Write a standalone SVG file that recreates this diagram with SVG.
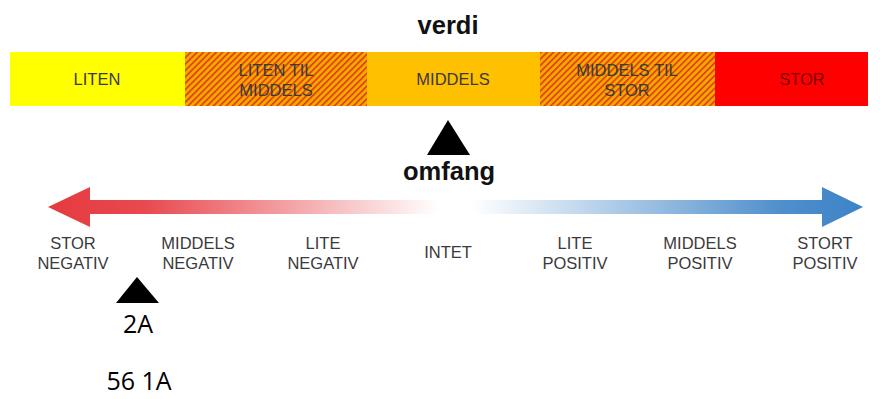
<svg xmlns="http://www.w3.org/2000/svg" width="880" height="399" viewBox="0 0 880 399">
<style>
.t{font-family:"Liberation Sans",Arial,sans-serif;font-size:16.5px;fill:#3a3a3a;text-anchor:middle}
.h{font-family:"Liberation Sans",Arial,sans-serif;font-size:25.5px;font-weight:bold;fill:#111;text-anchor:middle}
.c{font-family:"Open Sans","Liberation Sans",sans-serif;font-size:25px;fill:#000;text-anchor:middle}
</style>
<defs>
<pattern id="hatch" width="4.5" height="4.5" patternUnits="userSpaceOnUse" patternTransform="rotate(-45)">
<rect width="4.5" height="4.5" fill="#f5a800"/>
<rect width="4.5" height="1.6" fill="#e03a10"/>
</pattern>
<linearGradient id="grad" x1="48" y1="0" x2="863" y2="0" gradientUnits="userSpaceOnUse">
<stop offset="0" stop-color="#e53a3f"/>
<stop offset="0.12" stop-color="#e84a50"/>
<stop offset="0.48" stop-color="#ffffff"/>
<stop offset="0.52" stop-color="#ffffff"/>
<stop offset="0.9" stop-color="#4f8fcc"/>
<stop offset="1" stop-color="#3d83c7"/>
</linearGradient>
</defs>
<text class="h" x="448" y="34">verdi</text>
<g id="liten"><rect x="10" y="52" width="175" height="54" fill="#ffff00"/><text class="t" x="97" y="85">LITEN</text></g>
<g id="liten-til-middels"><rect x="185" y="52" width="182" height="54" fill="url(#hatch)"/><text class="t" x="276" y="76">LITEN TIL</text><text class="t" x="276" y="96">MIDDELS</text></g>
<g id="middels"><rect x="367" y="52" width="173" height="54" fill="#ffc000"/><text class="t" x="453" y="85">MIDDELS</text></g>
<g id="middels-til-stor"><rect x="540" y="52" width="175" height="54" fill="url(#hatch)"/><text class="t" x="627" y="76">MIDDELS TIL</text><text class="t" x="627" y="96">STOR</text></g>
<g id="stor"><rect x="715" y="52" width="153" height="54" fill="#ff0000"/><text class="t" x="802" y="85" style="fill:#7a0000">STOR</text></g>
<polygon points="448,120 470,155 427,155" fill="#000"/>
<text class="h" x="449" y="180">omfang</text>
<g id="connectors">
<polygon points="48,207 90,187 90,200 822,200 822,187 863,207 822,227 822,214 90,214 90,227" fill="url(#grad)"/>
</g>
<g id="labels">
<text class="t" x="73" y="249">STOR</text><text class="t" x="73" y="269">NEGATIV</text>
<text class="t" x="198" y="249">MIDDELS</text><text class="t" x="198" y="269">NEGATIV</text>
<text class="t" x="323" y="249">LITE</text><text class="t" x="323" y="269">NEGATIV</text>
<text class="t" x="448" y="258">INTET</text>
<text class="t" x="575" y="249">LITE</text><text class="t" x="575" y="269">POSITIV</text>
<text class="t" x="700" y="249">MIDDELS</text><text class="t" x="700" y="269">POSITIV</text>
<text class="t" x="825" y="249">STORT</text><text class="t" x="825" y="269">POSITIV</text>
</g>
<g id="marker-2a">
<polygon points="137,277 159,303 116,303" fill="#000"/>
<text class="c" x="138" y="333">2A</text>
</g>
<text class="c" x="139" y="390">56 1A</text>
</svg>
